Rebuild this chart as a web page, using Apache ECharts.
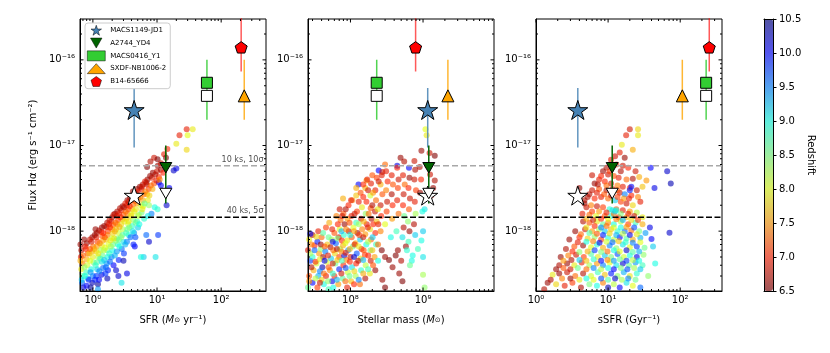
<!DOCTYPE html>
<html>
<head>
<meta charset="utf-8">
<script src="https://cdn.jsdelivr.net/npm/echarts@6/dist/echarts.min.js"></script>
<style>
html, body { margin: 0; padding: 0; background: #fff; }
#chart { width: 830px; height: 353px; }
</style>
</head>
<body>
<div id="chart"></div>
<script>
// ---- 模拟星系：[SFR (Msun/yr), flux (1e-18 erg/s/cm2), redshift] ----
const sfrGal = [
  [0.66,0.6,6.7],[0.65,0.5,6.9],[0.69,0.42,7.4],[0.66,0.36,7.9],[0.69,0.3,8.6],[0.68,0.25,9.6],[0.71,0.22,10.2],
  [0.8,0.72,6.6],[0.78,0.62,7.0],[0.83,0.55,7.2],[0.8,0.47,7.6],[0.82,0.4,8.1],[0.79,0.33,8.8],[0.84,0.28,9.3],[0.8,0.23,10.0],
  [0.98,0.85,6.6],[0.95,0.75,6.8],[1.01,0.66,7.3],[0.97,0.58,7.6],[0.99,0.5,7.9],[1.03,0.43,8.4],[0.94,0.36,9.0],[1.0,0.3,9.5],[0.98,0.25,10.3],
  [1.15,0.95,6.7],[1.13,0.85,6.9],[1.18,0.75,7.1],[1.15,0.66,7.5],[1.12,0.58,7.8],[1.2,0.5,8.2],[1.15,0.43,8.7],[1.17,0.36,9.2],[1.13,0.3,9.8],[1.2,0.24,10.4],
  [1.38,1.1,6.6],[1.36,0.98,6.9],[1.4,0.88,7.2],[1.44,0.78,7.5],[1.38,0.68,7.9],[1.33,0.6,8.3],[1.41,0.52,8.6],[1.38,0.44,9.1],[1.44,0.37,9.6],[1.37,0.31,10.1],
  [1.67,1.25,6.7],[1.63,1.12,6.8],[1.72,1.0,7.1],[1.69,0.9,7.4],[1.61,0.8,7.7],[1.75,0.7,8.0],[1.67,0.6,8.5],[1.7,0.5,9.0],[1.64,0.42,9.4],[1.72,0.35,9.9],[1.68,0.28,10.3],
  [2.0,1.45,6.6],[1.95,1.3,6.9],[2.07,1.18,7.2],[1.99,1.05,7.5],[2.05,0.93,7.8],[1.98,0.82,8.1],[2.07,0.7,8.6],[2.02,0.6,9.0],[1.95,0.5,9.5],[2.1,0.4,10.0],
  [2.4,1.7,6.7],[2.36,1.5,6.8],[2.47,1.35,7.1],[2.4,1.2,7.4],[2.3,1.05,7.7],[2.53,0.95,8.1],[2.39,0.82,8.5],[2.47,0.7,8.9],[2.36,0.58,9.4],[2.53,0.46,9.9],
  [2.9,1.95,6.6],[2.8,1.75,6.9],[3.0,1.55,7.2],[2.9,1.38,7.5],[2.76,1.2,7.8],[2.93,1.05,8.2],[2.9,0.9,8.7],[3.0,0.75,9.1],[2.82,0.62,9.6],[2.8,0.25,9.1],
  [3.45,2.3,6.6],[3.4,2.0,6.8],[3.56,1.8,7.1],[3.45,1.6,7.4],[3.33,1.4,7.7],[3.56,1.2,8.1],[3.45,1.05,8.6],[3.6,0.9,9.0],[3.4,0.75,9.5],[3.4,0.32,10.1],
  [4.1,2.6,6.7],[4.0,2.3,6.9],[4.25,2.05,7.3],[4.1,1.8,7.6],[4.0,1.55,8.0],[4.25,1.35,8.4],[4.1,1.15,8.9],[4.4,0.95,9.4],[4.5,0.66,10.0],
  [4.9,3.1,6.6],[4.8,2.7,6.8],[5.05,2.4,7.2],[4.9,2.1,7.5],[4.7,1.8,7.9],[5.2,1.55,8.3],[4.9,1.3,8.8],[5.05,1.1,9.2],[4.6,0.85,9.7],
  [6.0,3.5,6.7],[5.75,3.1,6.9],[6.2,2.7,7.3],[6.0,2.3,7.6],[6.1,1.95,8.0],[5.75,1.65,8.5],[6.3,1.4,8.9],[6.2,0.5,9.2],
  [7.1,4.0,6.6],[6.9,3.5,6.8],[7.4,3.1,7.1],[7.0,2.7,7.5],[7.2,2.3,7.9],[7.5,2.0,8.4],
  [8.6,4.8,6.6],[8.3,4.2,6.9],[9.0,3.6,7.2],[8.5,3.1,7.6],[9.2,1.9,9.0],
  [10.3,5.8,6.6],[10.0,5.0,6.8],[10.7,4.3,7.0],[10.2,1.8,8.9],[10.4,0.9,9.8],
  [7.0,5.6,6.5],[9.0,7.2,6.8],[12.9,7.9,6.9],[14.5,9.1,7.0],[20,10.5,7.9],[22.4,13.2,6.9],[29,15.5,6.9],
  [30,13.2,8.0],[36,15.5,7.9],[29,8.9,7.8],[13.8,7.2,6.5],[10.2,6.9,6.5],[11.5,6.2,6.8],[7.9,6.5,6.7],
  [20,5.4,10.1],[18.2,5.1,10.2],[15.5,3.2,10.0],[14.1,2.0,10.2],[11.5,3.4,10.0],[10.7,3.7,10.1],[9.5,0.5,9.1],
  [0.7,0.52,7.3],[0.74,0.38,8.4],[0.76,0.66,6.9],[0.9,0.8,6.8],[0.88,0.55,7.7],[0.92,0.33,9.4],[0.86,0.27,9.9],
  [1.07,0.9,6.6],[1.05,0.62,7.6],[1.1,0.4,8.9],[1.08,0.27,9.9],[1.25,1.02,6.7],[1.28,0.72,7.4],[1.3,0.48,8.8],[1.26,0.34,9.5],
  [1.5,1.15,6.6],[1.53,0.85,7.2],[1.55,0.64,8.0],[1.5,0.46,9.2],[1.57,0.32,9.8],[1.82,1.35,6.8],[1.85,1.1,7.0],[1.88,0.78,7.9],
  [1.8,0.55,8.9],[1.85,0.44,9.6],[2.2,1.6,6.6],[2.25,1.25,7.3],[2.2,1.0,7.6],[2.28,0.77,8.4],[2.2,0.52,9.3],
  [2.65,1.85,6.7],[2.7,1.45,7.0],[2.6,1.12,7.6],[2.75,0.85,8.4],[2.6,0.66,9.0],[3.2,2.1,6.9],[3.25,1.7,7.3],[3.1,1.3,7.9],
  [3.3,0.95,8.8],[3.2,0.7,9.3],[3.8,2.45,6.6],[3.75,1.95,7.0],[3.9,1.5,7.8],[3.7,1.1,8.5],[3.85,0.85,9.6],
  [4.5,2.8,6.7],[4.6,2.25,7.2],[4.4,1.7,7.9],[4.65,1.25,8.6],[4.3,0.7,9.9],[5.4,3.3,6.6],[5.5,2.5,7.4],[5.6,2.0,8.1],[5.3,1.2,9.0],
  [6.5,3.8,6.9],[6.6,2.9,7.4],[6.4,2.1,8.6],[7.8,4.4,6.6],[8.0,3.4,7.3],[7.6,2.6,7.8],[9.4,4.6,6.7],[9.8,3.9,6.9],[8.2,1.6,9.5],
  [11.5,5.2,6.6],[12.5,4.8,7.0],[11,4.0,7.4],[6.8,0.9,9.6],[7.5,0.75,10.2],[3.0,0.45,10.3],[5.6,0.5,9.0],[2.5,0.3,10.2],[1.2,0.21,9.4],
  [0.64,0.7,6.6],[0.64,0.45,7.6],[0.67,0.27,9.2],[0.73,0.8,6.6],[0.75,0.3,9.0],[0.9,0.62,7.2],[0.9,0.45,8.0],[0.92,0.22,10.4],
  [1.1,1.05,6.6],[1.22,0.55,7.9],[1.25,0.27,10.0],[1.45,0.95,7.0],[1.48,0.6,8.2],[1.6,0.38,9.6],[1.78,1.2,6.9],[1.9,0.66,8.3],
  [2.1,1.55,6.8],[2.15,0.82,7.9],[2.3,0.35,10.2],[2.55,1.6,6.9],[2.55,0.8,8.6],[3.05,1.9,6.7],[3.05,0.55,9.8],[3.6,2.2,6.8],
  [3.6,1.3,7.9],[4.2,2.9,6.6],[4.2,1.0,9.1],[5.0,2.9,6.9],[5.0,1.5,8.2],[5.8,3.3,6.8],[5.9,1.8,7.9],[6.8,3.7,6.7],[7.2,1.5,9.1]
];

// ---- [stellar mass (1e8 Msun), flux (1e-18), redshift] ----
const massGal = [
  [0.26,0.22,8.6],[0.27,0.3,7.2],[0.28,0.45,9.8],[0.26,0.6,6.8],[0.27,0.8,7.9],
  [0.3,0.25,10.0],[0.31,0.35,7.6],[0.3,0.5,8.9],[0.32,0.68,7.0],[0.3,0.9,6.7],
  [0.35,0.22,7.1],[0.36,0.3,9.3],[0.34,0.42,8.1],[0.37,0.55,7.5],[0.35,0.75,9.9],[0.36,1.0,6.9],
  [0.4,0.27,7.8],[0.41,0.38,10.3],[0.42,0.5,6.6],[0.39,0.62,8.4],[0.4,0.85,7.3],[0.43,0.24,9.0],
  [0.46,0.3,6.9],[0.47,0.44,8.0],[0.45,0.58,9.5],[0.48,0.7,7.7],[0.46,1.1,7.1],[0.5,0.21,8.8],
  [0.52,0.35,7.4],[0.54,0.48,9.2],[0.53,0.65,6.7],[0.55,0.8,8.2],[0.51,1.25,7.6],[0.56,0.26,10.1],
  [0.6,0.3,7.0],[0.62,0.42,8.6],[0.61,0.55,7.8],[0.63,0.72,9.6],[0.6,0.95,7.2],[0.64,1.5,7.4],[0.58,0.22,9.0],
  [0.68,0.24,7.5],[0.7,0.36,9.9],[0.7,0.5,7.1],[0.72,0.62,8.3],[0.69,0.85,6.8],[0.71,1.05,8.0],[0.73,1.35,7.3],
  [0.78,0.28,8.7],[0.8,0.4,7.0],[0.82,0.52,10.2],[0.79,0.68,7.6],[0.81,0.9,8.9],[0.83,1.2,6.6],[0.8,1.6,7.2],
  [0.9,0.22,6.9],[0.92,0.33,8.1],[0.88,0.46,7.4],[0.93,0.6,9.4],[0.9,0.78,7.9],[0.95,1.0,6.7],[0.91,1.4,7.5],[0.94,2.0,7.0],
  [1.02,0.26,7.7],[1.05,0.38,9.1],[1.0,0.5,6.8],[1.08,0.66,8.5],[1.04,0.85,7.2],[1.1,1.1,8.0],[1.03,1.5,6.9],[1.06,2.3,7.4],
  [1.18,0.3,8.3],[1.2,0.42,7.0],[1.22,0.55,9.7],[1.17,0.72,7.6],[1.25,0.95,6.6],[1.2,1.25,8.8],[1.23,1.7,7.1],[1.2,2.6,7.7],
  [1.35,0.24,7.3],[1.4,0.35,8.9],[1.38,0.48,7.8],[1.42,0.62,6.9],[1.36,0.8,9.2],[1.45,1.05,7.4],[1.4,1.4,6.8],[1.44,1.9,7.9],[1.38,2.8,7.2],
  [1.6,0.28,6.7],[1.62,0.4,8.2],[1.58,0.53,7.1],[1.65,0.7,9.0],[1.6,0.92,7.5],[1.68,1.2,6.9],[1.62,1.6,8.4],[1.66,2.2,7.0],[1.6,3.2,7.6],
  [1.85,0.32,7.9],[1.9,0.45,6.8],[1.88,0.6,8.6],[1.92,0.8,7.3],[1.86,1.05,7.8],[1.95,1.4,6.7],[1.9,1.85,7.2],[1.88,2.6,8.1],[1.92,3.6,6.9],
  [2.2,0.35,6.6],[2.15,0.5,7.5],[2.25,0.7,8.8],[2.2,0.95,7.0],[2.3,1.3,7.7],[2.18,1.7,6.8],[2.25,2.3,7.3],[2.2,3.0,6.9],[2.3,4.2,7.1],
  [1.29,3.5,10.0],[1.2,3.2,7.6],[1.66,3.9,7.5],[0.79,2.4,7.6],[0.71,1.8,6.8],[1.02,2.3,6.9],[0.28,0.93,10.1],
  [2.6,1.0,7.4],[2.65,1.5,7.0],[2.6,2.0,6.8],[2.75,2.7,7.2],[2.6,3.5,7.6],[2.7,4.5,6.9],[2.45,5.1,10.0],[2.75,4.9,6.8],
  [3.0,1.2,8.0],[3.15,1.7,7.1],[3.2,2.2,6.8],[3.1,3.0,7.4],[3.25,3.8,7.0],[3.1,5.0,6.9],[3.0,6.0,7.3],
  [3.6,0.85,9.0],[3.75,1.4,7.5],[3.8,2.0,7.0],[3.7,2.7,6.7],[3.85,3.5,7.2],[3.7,4.5,6.9],[4.4,5.8,10.1],
  [4.3,1.0,8.8],[4.6,1.6,7.3],[4.4,2.3,6.9],[4.5,3.2,7.1],[4.6,4.0,6.8],[4.4,5.5,7.0],[4.9,7.2,6.6],
  [5.2,0.85,9.1],[5.4,1.1,6.7],[5.5,1.5,8.6],[5.3,2.0,7.0],[5.4,2.7,6.8],[5.6,3.5,7.3],[5.3,4.5,6.9],[5.5,6.5,6.7],
  [6.3,0.75,8.8],[6.5,1.0,6.6],[6.2,1.3,8.4],[6.4,1.8,7.2],[6.6,2.4,6.8],[6.3,3.2,7.0],[6.5,4.2,6.6],[6.4,5.5,10.0],[7.6,6.6,6.8],
  [7.2,0.52,9.0],[7.8,0.9,9.2],[7.5,1.2,6.7],[7.9,1.6,8.3],[7.7,2.2,6.9],[8.0,3.0,7.1],[7.6,4.0,6.8],[7.8,5.2,6.7],
  [10,0.31,8.3],[10.5,0.22,8.4],[9.5,0.78,9.0],[10,0.5,9.1],[10,1.0,9.2],[10.5,1.8,9.1],[9.8,1.7,9.0],[9.1,2.8,6.6],
  [9.4,4.0,7.0],[9.0,5.6,6.7],[9.5,8.7,6.6],[11.2,13.2,7.9],[10.8,15.5,8.0],[12.3,8.2,6.8],
  [14.5,7.6,6.5],[14.5,3.9,6.7],[13.8,3.2,6.6],[12.5,4.6,6.8],[11.5,5.8,6.9],[13,2.6,6.6],
  [2.7,0.6,6.5],[3.0,0.5,6.6],[3.4,0.46,6.5],[3.8,0.38,6.6],[4.2,0.52,6.5],[4.7,0.32,6.6],[5.2,0.26,6.5],[5.8,0.66,6.6],
  [2.75,0.27,6.6],[3.0,0.22,6.5],[4.5,0.6,6.6],[5.0,0.45,6.7],
  [6.0,0.6,8.9],[7.0,0.45,9.0],[8.5,0.62,8.8],[6.6,0.4,8.6],
  [0.27,0.26,7.5],[0.29,0.38,6.7],[0.28,0.55,8.3],[0.29,0.7,7.4],[0.33,0.28,8.2],[0.33,0.44,7.0],[0.32,0.6,9.6],[0.34,0.86,7.8],
  [0.38,0.25,6.8],[0.38,0.34,9.5],[0.38,0.47,7.9],[0.39,0.7,6.6],[0.43,0.32,7.3],[0.44,0.45,10.0],[0.44,0.66,7.2],[0.42,0.95,8.7],
  [0.49,0.26,8.4],[0.5,0.38,7.2],[0.49,0.52,6.9],[0.5,0.85,8.6],[0.57,0.32,8.9],[0.57,0.42,6.8],[0.58,0.6,7.3],[0.57,0.75,10.1],
  [0.56,1.05,6.9],[0.65,0.27,9.3],[0.66,0.46,7.7],[0.65,0.62,6.7],[0.66,0.82,8.5],[0.67,1.2,7.0],[0.75,0.32,6.8],[0.76,0.45,8.8],
  [0.75,0.58,7.4],[0.76,0.78,7.0],[0.75,1.0,9.3],[0.77,1.5,6.8],[0.85,0.26,7.3],[0.86,0.37,9.7],[0.86,0.56,6.9],[0.85,0.72,8.0],
  [0.87,1.05,7.4],[0.86,1.8,6.7],[0.97,0.3,8.6],[0.98,0.44,7.0],[0.98,0.62,7.6],[0.99,0.9,9.0],[0.97,1.25,7.2],[1.12,0.24,7.0],
  [1.13,0.34,7.8],[1.12,0.5,10.2],[1.14,0.7,6.9],[1.12,1.0,7.5],[1.14,1.6,6.8],[1.3,0.27,9.5],[1.28,0.45,6.7],[1.3,0.66,7.9],
  [1.32,0.9,7.1],[1.3,1.2,8.3],[1.3,2.2,6.9],[1.5,0.32,7.6],[1.5,0.46,9.3],[1.52,0.6,7.2],[1.5,0.85,6.8],[1.52,1.3,7.6],
  [1.5,2.5,7.0],[1.75,0.36,8.8],[1.76,0.52,7.0],[1.75,0.75,8.2],[1.74,1.1,6.9],[1.78,1.6,7.3],[1.75,3.0,6.8],[2.05,0.4,7.2],
  [2.0,0.6,7.7],[2.02,0.85,9.2],[2.06,1.2,7.0],[2.0,2.0,6.7],[2.05,2.8,7.5],[2.4,0.45,9.0],[2.4,0.7,7.3],[2.42,1.2,6.9],
  [2.38,1.8,7.9],[2.45,3.8,6.8],[2.0,4.5,7.2],[1.7,4.0,6.9],[1.5,3.5,7.0]
];

// ---- [sSFR (1/Gyr), flux (1e-18), redshift] ----
const ssfrGal = [
  [20,15.5,6.8],[26,15.5,7.8],[26,13.2,7.9],[17.8,13.2,6.9],[15.5,10.2,7.9],[22,8.9,7.6],[14.5,8.3,6.9],[17,7.2,6.6],
  [12.5,7.5,6.8],[11,6.8,6.9],[13,6.0,7.1],[16,5.8,6.8],[19,5.5,7.0],[24,5.0,6.8],[9.5,5.5,6.7],[8.5,5.0,6.6],
  [10,4.6,6.8],[12,4.4,7.2],[14,4.2,6.9],[18,4.0,7.3],[22,4.1,6.7],[27,4.3,7.6],[7.5,4.0,6.9],[6.5,3.6,6.6],
  [9,3.8,7.0],[11,3.6,6.8],[13.5,3.4,7.4],[16,3.3,6.9],[20,3.2,7.1],[25,3.0,6.8],[30,3.3,7.7],[34,3.9,7.5],
  [6,3.0,6.8],[7.5,3.1,7.2],[9.5,3.0,6.7],[12,2.9,7.5],[14.5,2.8,6.8],[17,2.7,9.5],[21,2.6,7.0],[26,2.5,7.4],
  [5.2,2.5,6.7],[6.5,2.4,7.0],[8,2.5,6.9],[10,2.4,7.3],[12.5,2.3,9.2],[15,2.2,7.1],[18,2.1,6.8],[22,2.0,7.8],[28,2.2,6.9],
  [4.7,2.1,6.6],[5.8,2.0,7.4],[7,1.95,6.8],[8.5,1.9,7.1],[10.5,1.8,8.9],[13,1.8,7.2],[16,1.75,6.9],[20,1.7,7.5],[25,1.65,8.2],
  [4.4,1.6,6.9],[5.5,1.55,7.3],[6.8,1.5,8.0],[9,1.5,7.2],[11,1.5,9.0],[14,1.45,7.0],[18,1.45,7.6],[23,1.5,6.8],[30,1.45,7.9],
  [4.0,3.2,6.6],[4.7,2.3,6.7],
  [4.5,1.3,6.7],[5.5,1.25,7.2],[7,1.3,7.9],[8.5,1.2,8.6],[10,1.25,7.4],[12,1.2,9.0],[15,1.3,8.2],[19,1.2,7.1],[24,1.25,8.8],[30,1.2,7.6],[38,1.1,10.1],
  [3.5,1.0,6.6],[4.8,1.05,6.8],[6,1.0,7.5],[7.5,1.05,8.3],[9,1.0,9.2],[11,1.05,7.7],[13.5,1.0,8.9],[17,1.0,9.6],[21,1.02,7.3],[27,1.0,8.5],[33,0.95,9.4],[71,0.96,10.2],
  [2.9,0.8,6.6],[4,0.85,7.0],[5.2,0.82,7.8],[6.5,0.86,8.4],[8,0.8,7.1],[10,0.84,9.0],[12,0.8,8.2],[14.5,0.85,10.0],[18,0.82,8.7],[22,0.8,7.6],[28,0.84,9.3],[40,0.81,10.0],
  [2.6,0.62,6.7],[3.4,0.66,7.2],[4.5,0.68,6.6],[5.8,0.65,8.0],[7,0.7,8.9],[8.5,0.64,7.6],[10.5,0.68,9.5],[13,0.63,8.4],[16,0.7,9.1],[20,0.65,8.0],[25,0.66,9.8],[32,0.64,8.6],[42,0.66,9.2],
  [2.2,0.5,6.6],[2.8,0.52,7.4],[3.6,0.53,6.8],[4.6,0.5,7.1],[5.8,0.54,8.7],[7.2,0.5,7.9],[9,0.52,9.2],[11,0.5,8.5],[13.5,0.54,9.7],[16.5,0.5,8.1],[20,0.52,9.0],[25,0.5,10.1],[31,0.53,8.4],
  [2.1,0.4,6.7],[2.7,0.42,6.6],[3.4,0.4,7.9],[4.3,0.43,6.9],[5.5,0.4,8.3],[7,0.42,7.5],[8.5,0.4,9.5],[10.5,0.43,8.0],[13,0.4,9.1],[16,0.42,10.2],[19.5,0.4,8.6],[24,0.43,9.4],[30,0.4,8.8],[45,0.42,9.0],
  [1.7,0.31,7.9],[2.1,0.32,6.6],[2.7,0.33,6.8],[3.5,0.3,7.3],[4.5,0.32,6.7],[5.8,0.3,8.1],[7.2,0.33,8.8],[9,0.31,7.7],[11,0.32,9.9],[13.5,0.3,8.4],[16.5,0.33,9.3],[20,0.3,7.9],[25,0.32,8.9],[36,0.3,8.4],
  [1.45,0.25,6.6],[1.3,0.21,6.7],[1.9,0.24,7.8],[2.5,0.23,6.9],[3.2,0.25,7.1],[4.2,0.22,6.7],[5.5,0.24,8.5],[7,0.23,9.0],[8.5,0.25,7.4],[10,0.22,10.3],[12,0.24,8.2],[14.5,0.22,10.0],[18,0.25,9.1],[22,0.23,8.0],[28,0.22,9.6],
  [39,5.5,10.0],[66,5.0,10.2],[74,3.6,10.3],[44,3.2,10.1],
  [5,1.9,6.8],[6,1.7,7.1],[7.5,1.7,7.5],[9.5,1.65,6.9],[12,1.6,7.3],[15,1.6,8.5],[19,1.6,6.9],[5,1.4,7.6],[6.2,1.35,6.8],[8,1.4,7.0],
  [10,1.4,8.0],[13,1.38,7.4],[16,1.35,9.3],[21,1.35,7.8],[26,1.35,7.1],[5,1.1,7.9],[6.5,1.15,7.0],[8,1.1,9.5],[9.5,1.15,7.3],[12,1.1,8.0],
  [15,1.1,9.0],[18,1.12,7.5],[23,1.1,9.7],[4.2,0.92,7.3],[5.5,0.95,8.7],[7,0.93,7.2],[8.5,0.9,9.9],[10.5,0.94,7.8],[13,0.9,9.3],[16,0.93,8.2],
  [20,0.9,10.1],[25,0.92,7.9],[3.8,0.74,6.9],[5,0.75,9.0],[6.2,0.76,7.4],[7.6,0.73,10.1],[9.5,0.75,8.1],[11.5,0.74,9.6],[14,0.76,7.7],[17.5,0.74,8.9],
  [22,0.73,9.5],[28,0.74,8.0],[3.2,0.58,7.0],[4,0.57,8.4],[5.2,0.58,7.6],[6.5,0.6,9.8],[8,0.57,8.5],[9.8,0.58,7.3],[12,0.6,9.0],[14.5,0.58,8.0],
  [18,0.6,10.2],[22,0.57,8.7],[27,0.58,9.3],[2.4,0.45,7.5],[3.1,0.46,6.7],[4,0.46,9.2],[5,0.45,7.7],[6.3,0.47,8.9],[8,0.45,10.0],[9.8,0.46,7.4],
  [12,0.45,9.4],[14.5,0.47,8.6],[18,0.45,9.8],[22,0.46,8.2],[27,0.45,9.0],[1.9,0.36,6.6],[2.4,0.37,7.2],[3,0.36,6.8],[3.8,0.37,8.6],[5,0.36,7.3],
  [6.3,0.37,9.5],[8,0.36,8.2],[10,0.37,9.0],[12,0.36,10.0],[15,0.37,8.5],[18.5,0.36,9.7],[23,0.37,8.3],[28,0.36,9.2],[1.6,0.27,6.7],[2.3,0.28,7.4],
  [3,0.28,6.6],[4,0.27,7.9],[5,0.28,9.0],[6.3,0.27,8.0],[8,0.28,9.7],[10,0.27,8.7],[12.5,0.28,10.2],[15.5,0.27,8.3],[19,0.28,9.5],[24,0.27,8.6],
  [3.9,2.7,6.6],[5.5,2.7,6.7],[7,2.8,6.9],[8.8,2.7,7.2],[11,2.6,6.8],[13.5,2.5,7.1],[16.5,2.4,7.5],[19.5,2.4,6.9],[6,4.5,6.8],[8,4.4,7.0],
  [7.2,3.5,6.7],[9.5,3.4,7.3],[11.5,3.1,6.9],[13.5,3.0,7.2],[15,5.0,6.7],[10.5,5.0,7.1],[21,3.3,10.0],[20,3.0,9.9],
  [11.5,1.75,9.1],[12.5,1.7,9.2],[13,1.75,9.0]
];

// ---- 观测天体 ----
const objNames  = ['MACS1149-JD1', 'A2744_YD4', 'MACS0416_Y1', 'SXDF-NB1006-2', 'B14-65666'];
const objSFR    = [4.4, 13.7, 60, 229, 205];
const objMass   = [1.16e9, 1.2e9, 2.3e8, 2.2e9, 7.9e8];
const objSSFR   = [3.8, 11.4, 229, 107, 253];
const objFlux   = [2.6e-17, 5.5e-18, 5.4e-17, 3.8e-17, 1.4e-16];
const objFluxLo = [9.5e-18, 2.1e-18, 2.0e-17, 2.0e-17, 7.3e-17];
const objFluxHi = [4.7e-17, 1.0e-17, 1.0e-16, 1.0e-16, 5.0e-16];
const openFlux  = [2.6e-18, 2.75e-18, 3.8e-17, null, null];

// 灵敏度线
const limitNames = ['10 ks, 10σ', '40 ks, 5σ'];
const limitFlux = [5.8e-18, 1.45e-18];

// 坐标轴刻度
const yMajor = [1e-18, 1e-17, 1e-16];
const xMajorSFR = [1, 10, 100];
const xMajorMass = [1e8, 1e9];
const xMajorSSFR = [1, 10, 100];

// jet_r, alpha 0.6
const zColors = [
  'rgba(128,0,0,0.6)', 'rgba(255,33,0,0.6)', 'rgba(255,151,0,0.6)', 'rgba(226,255,20,0.6)',
  'rgba(124,255,124,0.6)', 'rgba(20,255,226,0.6)', 'rgba(0,128,255,0.6)', 'rgba(0,0,255,0.6)', 'rgba(0,0,128,0.6)'
];

const FONT = 'DejaVu Sans';
const SUP = { '-': '⁻', '0': '⁰', '1': '¹', '2': '²', '3': '³', '4': '⁴', '5': '⁵', '6': '⁶', '7': '⁷', '8': '⁸', '9': '⁹' };
const pow10Label = v => '10' + String(Math.round(Math.log10(v))).split('').map(c => SUP[c]).join('');

// 对数坐标的次刻度 2..9 × 10^n
const minorTicks = (lo, hi) => {
  const out = [];
  for (let e = Math.floor(Math.log10(lo)) - 1; e <= Math.ceil(Math.log10(hi)); e++) {
    for (let k = 2; k <= 9; k++) {
      const v = k * Math.pow(10, e);
      if (v > lo * 1.001 && v < hi * 0.999) out.push(v);
    }
  }
  return out;
};

const symStar = 'path://M50,0L61.2,34.5L97.6,34.5L68.2,55.9L79.4,90.5L50,69.1L20.6,90.5L31.8,55.9L2.4,34.5L38.8,34.5Z';
const symPent = 'path://M50,0L97.6,34.5L79.4,90.5L20.6,90.5L2.4,34.5Z';
const symDown = 'path://M0,0L100,0L50,87Z';
const objSymbols = [symStar, symDown, 'rect', 'triangle', symPent];
const objSizes   = [20, 12, 11, 12, 12];
const objColors  = ['#4682b4', '#006400', '#32cd32', '#ffa500', '#ff0000'];
const errColors  = ['rgba(70,130,180,0.85)', '#006400', 'rgba(50,205,50,0.85)', 'rgba(255,165,0,0.8)', 'rgba(255,0,0,0.65)'];

const yMin = 2e-19, yMax = 3e-16;
const panels = [
  { left: 80,  xMin: 0.63, xMax: 500, majors: xMajorSFR, gal: sfrGal, xs: objSFR, scale: 1,
    name: 'SFR ({i|M}{s|⊙} yr⁻¹)' },
  { left: 308, xMin: 2.6e7, xMax: 9.5e9, majors: xMajorMass, gal: massGal, xs: objMass, scale: 1e8,
    name: 'Stellar mass ({i|M}{s|⊙})' },
  { left: 536, xMin: 1, xMax: 380, majors: xMajorSSFR, gal: ssfrGal, xs: objSSFR, scale: 1,
    name: 'sSFR (Gyr⁻¹)' }
];

const nameStyle = {
  fontSize: 10, fontFamily: FONT, color: '#000',
  rich: {
    i: { fontSize: 10, fontFamily: FONT, fontStyle: 'italic', color: '#000' },
    s: { fontSize: 7, fontFamily: FONT, color: '#000' }
  }
};

const grids = [], xAxes = [], yAxes = [], series = [];
const blackLine = { show: true, onZero: false, lineStyle: { color: '#000', width: 1 } };

panels.forEach((p, i) => {
  grids.push({ left: p.left, top: 19, width: 186, height: 272, show: true, borderColor: '#000', borderWidth: 1, backgroundColor: 'transparent' });
  xAxes.push({
    type: 'log', gridIndex: i, min: p.xMin, max: p.xMax, position: 'bottom', axisLine: blackLine, z: 6,
    axisTick: { show: false }, splitLine: { show: false },
    axisLabel: { customValues: p.majors, formatter: pow10Label, margin: 4, fontSize: 10, fontFamily: FONT, color: '#000' },
    name: p.name, nameLocation: 'middle', nameGap: 24, nameTextStyle: nameStyle
  });
  yAxes.push({
    type: 'log', gridIndex: i, min: yMin, max: yMax, position: 'left', axisLine: blackLine, z: 6,
    axisTick: { show: false }, splitLine: { show: false },
    axisLabel: { customValues: yMajor, formatter: pow10Label, margin: 5, fontSize: 10, fontFamily: FONT, color: '#000' },
    name: i === 0 ? 'Flux Hα (erg s⁻¹ cm⁻²)' : '', nameLocation: 'middle', nameGap: 42, nameTextStyle: nameStyle
  });
});

// 模拟星系散点（visualMap 控制颜色）
panels.forEach((p, i) => {
  series.push({
    type: 'scatter', name: 'sim' + i, xAxisIndex: i, yAxisIndex: i, z: 2,
    symbolSize: 6, itemStyle: { opacity: 1 },
    data: p.gal.map(g => [g[0] * p.scale, g[1] * 1e-18, g[2]])
  });
});

// 刻度标记：在四条边内侧，用细长矩形表示
const tickItem = (x, y, w, h, dx, dy) => ({ value: [x, y], symbolSize: [w, h], symbolOffset: [dx, dy] });

panels.forEach((p, i) => {
  // 灵敏度虚线
  limitFlux.forEach((f, k) => {
    series.push({
      type: 'line', name: 'limit' + i + k, xAxisIndex: i, yAxisIndex: i, z: 3, silent: true, symbol: 'none',
      lineStyle: k === 0 ? { color: '#a8a8a8', width: 1.3, type: [6, 3] } : { color: '#000', width: 1.5, type: [6, 2.5] },
      data: [[p.xMin, f], [p.xMax, f]]
    });
  });
  // 误差棒
  objNames.forEach((nm, k) => {
    series.push({
      type: 'line', name: 'err' + i + k, xAxisIndex: i, yAxisIndex: i, z: 3, silent: true,
      symbol: 'none', lineStyle: { color: errColors[k], width: 1.5 },
      data: [[p.xs[k], objFluxLo[k]], [p.xs[k], objFluxHi[k]]]
    });
  });
  // 空心标记
  objNames.forEach((nm, k) => {
    if (openFlux[k] == null) return;
    series.push({
      type: 'scatter', name: 'open' + k, xAxisIndex: i, yAxisIndex: i, z: 4, silent: true,
      symbol: objSymbols[k], symbolSize: objSizes[k], symbolKeepAspect: true,
      itemStyle: { color: '#fff', borderColor: '#000', borderWidth: 1, opacity: 1 },
      data: [[p.xs[k], openFlux[k]]]
    });
  });
  // 实心标记
  objNames.forEach((nm, k) => {
    series.push({
      type: 'scatter', name: nm, xAxisIndex: i, yAxisIndex: i, z: 5, silent: true,
      symbol: objSymbols[k], symbolSize: objSizes[k], symbolKeepAspect: true,
      itemStyle: { color: objColors[k], borderColor: '#000', borderWidth: 1, opacity: 1 },
      data: [[p.xs[k], objFlux[k]]]
    });
  });
  // 刻度
  const tk = [];
  p.majors.forEach(v => { tk.push(tickItem(v, yMin, 1, 3.5, 0, -1.75), tickItem(v, yMax, 1, 3.5, 0, 1.75)); });
  minorTicks(p.xMin, p.xMax).forEach(v => { tk.push(tickItem(v, yMin, 1, 2, 0, -1), tickItem(v, yMax, 1, 2, 0, 1)); });
  yMajor.forEach(v => { tk.push(tickItem(p.xMin, v, 3.5, 1, 1.75, 0), tickItem(p.xMax, v, 3.5, 1, -1.75, 0)); });
  minorTicks(yMin, yMax).forEach(v => { tk.push(tickItem(p.xMin, v, 2, 1, 1, 0), tickItem(p.xMax, v, 2, 1, -1, 0)); });
  series.push({
    type: 'scatter', name: 'ticks' + i, xAxisIndex: i, yAxisIndex: i, z: 7, silent: true, clip: false,
    symbol: 'rect', itemStyle: { color: '#000', opacity: 1 }, data: tk
  });
});

// 灵敏度线的文字（第一个面板，右端）
series.push({
  type: 'scatter', name: 'limitText', xAxisIndex: 0, yAxisIndex: 0, z: 6, silent: true,
  symbol: 'circle', symbolSize: 1, itemStyle: { color: 'rgba(0,0,0,0)' },
  label: {
    show: true, position: 'left', distance: 0, offset: [0, -6],
    formatter: d => d.name, fontSize: 8, fontFamily: FONT, color: '#222'
  },
  data: limitNames.map((n, k) => ({ name: n, value: [panels[0].xMax * 0.93, limitFlux[k]] }))
});

// 色标
grids.push({ left: 764, top: 19, width: 9, height: 272 });
xAxes.push(
  { type: 'value', gridIndex: 3, min: 0, max: 1, position: 'bottom', z: 10, axisLine: blackLine, axisTick: { show: false }, axisLabel: { show: false }, splitLine: { show: false } },
  { type: 'value', gridIndex: 3, min: 0, max: 1, position: 'top', z: 10, axisLine: blackLine, axisTick: { show: false }, axisLabel: { show: false }, splitLine: { show: false } }
);
yAxes.push(
  { type: 'value', gridIndex: 3, min: 6.5, max: 10.5, interval: 0.5, position: 'right', z: 10, axisLine: blackLine,
    axisTick: { show: true, inside: false, length: 3.5, lineStyle: { color: '#000' } },
    axisLabel: { formatter: v => v.toFixed(1), margin: 6, fontSize: 10, fontFamily: FONT, color: '#000' },
    splitLine: { show: false },
    name: 'Redshift', nameLocation: 'middle', nameRotate: -90, nameGap: 29, nameTextStyle: { fontSize: 10, fontFamily: FONT, color: '#000' } },
  { type: 'value', gridIndex: 3, min: 6.5, max: 10.5, position: 'left', z: 10, axisLine: blackLine, axisTick: { show: false }, axisLabel: { show: false }, splitLine: { show: false } }
);
series.push({ type: 'scatter', name: 'cbar', xAxisIndex: 3, yAxisIndex: 3, data: [] });

const chart = echarts.init(document.getElementById('chart'), null, { renderer: 'canvas' });
chart.setOption({
  animation: false,
  backgroundColor: '#fff',
  grid: grids,
  xAxis: xAxes,
  yAxis: yAxes,
  visualMap: {
    type: 'continuous', min: 6.5, max: 10.5, dimension: 2, seriesIndex: [0, 1, 2],
    calculable: false, hoverLink: false, orient: 'vertical',
    left: 764, top: 19, itemWidth: 9, itemHeight: 272, padding: 0,
    inRange: { color: zColors }
  },
  legend: {
    data: objNames, orient: 'vertical', left: 85, top: 23, itemGap: 2.3, itemWidth: 18, itemHeight: 10,
    padding: [2, 4, 2, 2], backgroundColor: 'rgba(255,255,255,0.85)', borderColor: '#cccccc', borderWidth: 1, borderRadius: 3,
    selectedMode: false, itemStyle: { borderWidth: 0.5 },
    textStyle: { fontSize: 7, fontFamily: FONT, color: '#000' }
  },
  series: series
});
</script>
</body>
</html>
